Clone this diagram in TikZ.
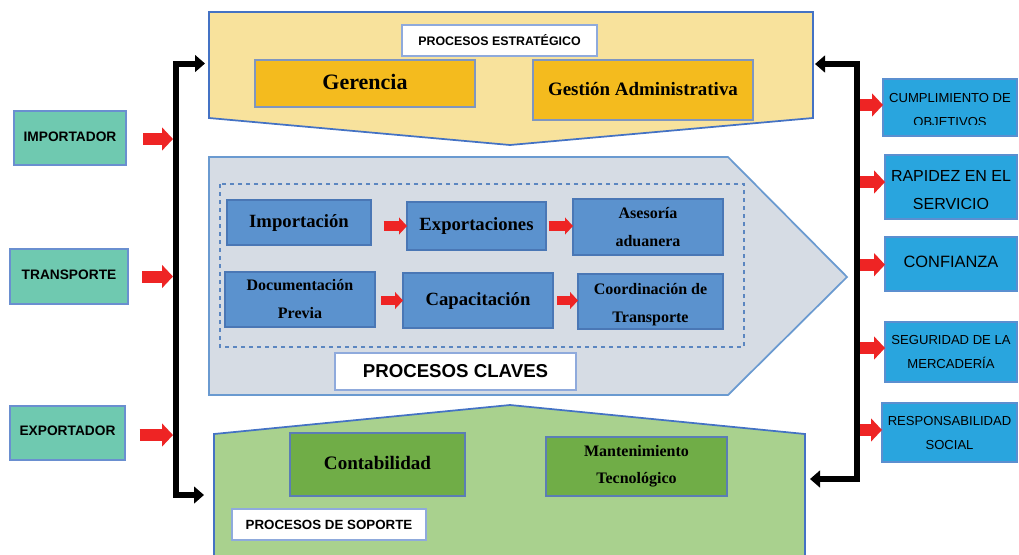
\documentclass[tikz,border=0pt]{standalone}
\usepackage{fontspec}
\setmainfont{Liberation Serif}
\setsansfont{Liberation Sans}
\usetikzlibrary{arrows.meta}
\definecolor{stratfill}{HTML}{F8E29C}
\definecolor{shapeblue}{HTML}{4472C4}
\definecolor{goldfill}{HTML}{F4BB1E}
\definecolor{goldline}{HTML}{7F96C0}
\definecolor{keyfill}{HTML}{D6DCE4}
\definecolor{keyline}{HTML}{6A9AD0}
\definecolor{dashline}{HTML}{5B86C0}
\definecolor{bluefill}{HTML}{5B92CE}
\definecolor{blueline}{HTML}{4A77B5}
\definecolor{supfill}{HTML}{A9D18E}
\definecolor{greenfill}{HTML}{70AD47}
\definecolor{greenline}{HTML}{5B7DB5}
\definecolor{tealfill}{HTML}{6FC9B0}
\definecolor{tealline}{HTML}{6A8FD0}
\definecolor{cyanfill}{HTML}{29A5DE}
\definecolor{cyanline}{HTML}{5B8FD0}
\definecolor{redarrow}{HTML}{EE2424}
\definecolor{labline}{HTML}{8FAADC}
\begin{document}
\begin{tikzpicture}[x=0.75pt,y=-0.75pt,
  bxs/.style 2 args={minimum width=#1*0.75pt, minimum height=#2*0.75pt},
  boxbase/.style={inner sep=0pt, outer sep=0pt, line width=0.8pt, align=center},
  goldbox/.style={boxbase, fill=goldfill, draw=goldline, font=\bfseries\fontsize{14.2}{16}\selectfont},
  bluebox/.style={boxbase, fill=bluefill, draw=blueline, font=\bfseries\fontsize{14}{16}\selectfont},
  bluesmall/.style={bluebox, font=\bfseries\fontsize{12}{21}\selectfont},
  greenbox/.style={boxbase, fill=greenfill, draw=greenline, font=\bfseries\fontsize{14.3}{16}\selectfont},
  greensmall/.style={greenbox, font=\bfseries\fontsize{12}{20.5}\selectfont},
  tealbox/.style={boxbase, fill=tealfill, draw=tealline, font=\sffamily\bfseries\fontsize{10.3}{12}\selectfont},
  cyanbox/.style={boxbase, fill=cyanfill, draw=cyanline},
  rtext/.style={align=center, inner sep=0pt, font=\sffamily\fontsize{9.8}{18}\selectfont},
  labelbox/.style={boxbase, fill=white, draw=labline, font=\sffamily\bfseries\fontsize{9.3}{12}\selectfont},
  bigshape/.style={line width=1.3pt, draw=shapeblue},
  redarr/.style={draw=redarrow, line width=9pt, -{Triangle[length=8.25pt,width=17pt]}},
  redsmall/.style={draw=redarrow, line width=7pt, -{Triangle[length=6pt,width=12.5pt]}},
  bracket/.style={line width=4.5pt, {Triangle[length=7.5pt,width=12.5pt]}-{Triangle[length=7.5pt,width=12.5pt]}}
]
\clip (0,0) rectangle (1019,554);
\fill[white] (0,0) rectangle (1019,554);

% ---------- big process shapes ----------
\draw[bigshape, fill=stratfill] (209,12) -- (813,12) -- (813,118) -- (510,145) -- (209,118) -- cycle;
\draw[bigshape, draw=keyline, fill=keyfill] (209,157) -- (728,157) -- (847,277) -- (728,395) -- (209,395) -- cycle;
\draw[bigshape, fill=supfill] (214,570) -- (214,434) -- (510,405) -- (805,434) -- (805,570);

% ---------- strategic ----------
\node[labelbox, bxs={195}{31}] (lstrat) at (499.5,40.5) {PROCESOS ESTRATÉGICO};
\node[goldbox, bxs={220}{47}, font=\bfseries\fontsize{16.5}{18}\selectfont] (ger) at (365,83.5) {\raisebox{2pt}{Gerencia}};
\node[goldbox, bxs={220}{60}] (gest) at (643,90) {\raisebox{2pt}{Gestión Administrativa}};

% ---------- key processes ----------
\draw[dashline, dashed, line width=0.8pt] (220,184) rectangle (744,347);
\node[bluebox, bxs={144}{45}] (imp) at (299,222.5) {\raisebox{2pt}{Importación}};
\node[bluebox, bxs={139}{48}] (exp) at (476.5,226) {\raisebox{2pt}{Exportaciones}};
\node[bluesmall, bxs={150}{56}] (ases) at (648,227) {Asesoría\\aduanera};
\node[bluesmall, bxs={150}{55}] (doc) at (300,299.5) {Documentación\\Previa};
\node[bluebox, bxs={150}{55}] (cap) at (478,300.5) {\raisebox{2pt}{Capacitación}};
\node[bluebox, bxs={145}{55}] (coor) at (650.5,301.5) {};
\begin{scope}
  \clip (578,274) rectangle (723,327);
  \node[align=center, inner sep=0pt, font=\bfseries\fontsize{12}{21}\selectfont] at (650.5,305) {Coordinación de\\Transporte};
\end{scope}
\draw[redsmall] ([xshift=9.5pt]imp.east |- exp.west) -- (exp.west);
\draw[redsmall] ([xshift=2pt]exp.east) -- (exp.east -| ases.west);
\draw[redsmall] ([xshift=4.5pt]doc.east |- cap.west) -- (cap.west);
\draw[redsmall] ([xshift=3pt]cap.east) -- (cap.east -| coor.west);
\node[labelbox, bxs={241}{37}, font=\sffamily\bfseries\fontsize{14}{16}\selectfont] (lkey) at (455.5,371.5) {PROCESOS CLAVES};

% ---------- support ----------
\node[greenbox, bxs={175}{63}] (cont) at (377.5,464.5) {\raisebox{3pt}{Contabilidad}};
\node[greensmall, bxs={181}{59}] (mant) at (636.5,466.5) {Mantenimiento\\Tecnológico};
\node[labelbox, bxs={194}{31}, font=\sffamily\bfseries\fontsize{10}{12}\selectfont] (lsup) at (329,524.5) {PROCESOS DE SOPORTE};

% ---------- inputs ----------
\node[tealbox, bxs={112}{54}] (impo) at (70,138) {\raisebox{2pt}{IMPORTADOR}};
\node[tealbox, bxs={118}{55}] (trans) at (69,276.5) {\raisebox{2pt}{TRANSPORTE}};
\node[tealbox, bxs={115}{54}] (expo) at (67.5,433) {\raisebox{3pt}{EXPORTADOR}};

% ---------- bracket coordinates ----------
\coordinate (lx) at (176,0);
\coordinate (stratIn) at (205,63.5);
\coordinate (supIn) at (204,495);
\coordinate (rx) at (856.5,0);
\coordinate (stratOut) at (815,64);
\coordinate (supOut) at (810,479);

\draw[bracket] (stratIn) -- (stratIn -| lx) -- (supIn -| lx) -- (supIn);
\draw[bracket] (stratOut) -- (stratOut -| rx) -- (supOut -| rx) -- (supOut);

\coordinate (lxin) at (173,0);
\draw[redarr] ([xshift=12.75pt,yshift=-0.75pt]impo.east) -- ([yshift=-0.75pt]impo.east -| lxin);
\draw[redarr] ([xshift=10.5pt]trans.east) -- (trans.east -| lxin);
\draw[redarr] ([xshift=11pt,yshift=-1.5pt]expo.east) -- ([yshift=-1.5pt]expo.east -| lxin) ;

% ---------- outputs ----------
\node[cyanbox, bxs={134}{57}] (r1) at (950,107.5) {};
\begin{scope}
  \clip (883,79) rectangle (1017,124);
  \node[rtext] at (950,109.5) {CUMPLIMIENTO DE\\OBJETIVOS};
\end{scope}
\node[cyanbox, bxs={132}{64}] (r2) at (951,187) {};
\begin{scope}
  \clip (885,155) rectangle (1017,208);
  \node[rtext, font=\sffamily\fontsize{12}{21}\selectfont] at (951,190.5) {RAPIDEZ EN EL\\SERVICIO};
\end{scope}
\node[cyanbox, bxs={132}{54}, font=\sffamily\fontsize{12.3}{14}\selectfont] (r3) at (951,264) {\raisebox{3pt}{CONFIANZA}};
\node[cyanbox, bxs={132}{60}, rtext] (r4) at (951,352) {SEGURIDAD DE LA\\MERCADERÍA};
\node[cyanbox, bxs={135}{59}, rtext] (r5) at (949.5,432.5) {RESPONSABILIDAD\\SOCIAL};

\coordinate (rxout) at (860,0);
\draw[redarr] ([yshift=1.9pt]r1.west -| rxout) -- ([yshift=1.9pt]r1.west);
\draw[redarr] ([yshift=3.75pt]r2.west -| rxout) -- ([yshift=3.75pt]r2.west);
\draw[redarr] ([yshift=-0.5pt]r3.west -| rxout) -- ([yshift=-0.5pt]r3.west);
\draw[redarr] ([yshift=3pt]r4.west -| rxout) -- ([yshift=3pt]r4.west);
\draw[redarr] ([yshift=1.9pt]r5.west -| rxout) -- ([yshift=1.9pt]r5.west);
\end{tikzpicture}
\end{document}
